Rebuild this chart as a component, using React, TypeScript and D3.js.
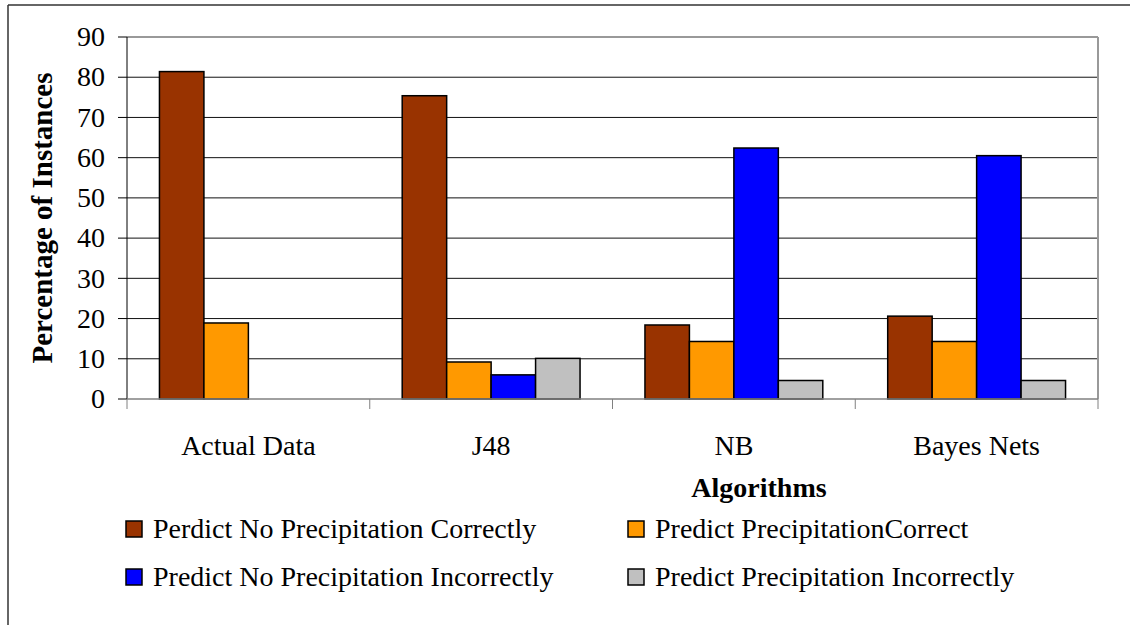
import React from "react";
import * as d3 from "d3";

const categories = ["Actual Data", "J48", "NB", "Bayes Nets"];
const seriesNames = [
  "Perdict No Precipitation Correctly",
  "Predict PrecipitationCorrect",
  "Predict No Precipitation Incorrectly",
  "Predict Precipitation Incorrectly",
];
const seriesColors = ["#993300", "#FF9900", "#0000FF", "#C0C0C0"];
const noPrecipCorrect = [81.4, 75.4, 18.4, 20.6];
const precipCorrect = [18.9, 9.2, 14.3, 14.3];
const noPrecipIncorrect = [0, 6.0, 62.4, 60.5];
const precipIncorrect = [0, 10.1, 4.6, 4.6];
const yTicks = [0, 10, 20, 30, 40, 50, 60, 70, 80, 90];

const seriesValues = [noPrecipCorrect, precipCorrect, noPrecipIncorrect, precipIncorrect];

const W = 1130;
const H = 625;
const left = 127;
const right = 1098;
const top = 37;
const bottom = 399;
const font = "'Liberation Serif', 'Times New Roman', serif";

export default function App() {
  const x0 = d3.scaleBand<string>().domain(categories).range([left, right]).paddingInner(0).paddingOuter(0);
  const x1 = d3
    .scaleBand<number>()
    .domain([0, 1, 2, 3])
    .range([0, x0.bandwidth()])
    .paddingOuter(0.73)
    .paddingInner(0);
  const y = d3.scaleLinear().domain([0, 90]).range([bottom, top]);

  const boundaries = categories.map((c) => x0(c) as number).concat([right]);

  return (
    <svg
      width={W}
      height={H}
      style={{ position: "absolute", left: 0, top: 0, background: "#fff" }}
      fontFamily={font}
    >
      <rect x={0} y={0} width={W} height={H} fill="#fff" />
      {/* outer frame */}
      <line x1={8} y1={5} x2={W} y2={5} stroke="#333" strokeWidth={1.5} />
      <line x1={8} y1={5} x2={8} y2={H} stroke="#333" strokeWidth={1.5} />

      {/* gridlines */}
      {yTicks.filter((t) => t > 0 && t < 90).map((t) => (
        <line key={t} x1={left} x2={right} y1={y(t)} y2={y(t)} stroke="#111" strokeWidth={1} />
      ))}
      {/* plot border top/right */}
      <line x1={left} x2={right} y1={y(90)} y2={y(90)} stroke="#999" strokeWidth={2} />
      <line x1={right} x2={right} y1={y(90)} y2={bottom} stroke="#999" strokeWidth={2} />

      {/* bars */}
      {categories.map((c, ci) => (
        <g key={c}>
          {seriesValues.map((vals, si) =>
            vals[ci] > 0 ? (
              <rect
                key={si}
                x={(x0(c) as number) + (x1(si) as number)}
                y={y(vals[ci])}
                width={x1.bandwidth()}
                height={bottom - y(vals[ci])}
                fill={seriesColors[si]}
                stroke="#000"
                strokeWidth={1.5}
              />
            ) : null
          )}
        </g>
      ))}

      {/* y axis */}
      <line x1={left} x2={left} y1={top} y2={bottom} stroke="#000" strokeWidth={1} />
      {yTicks.map((t) => (
        <g key={t}>
          <line x1={118} x2={left} y1={y(t)} y2={y(t)} stroke="#000" strokeWidth={1} />
          <text x={105} y={y(t)} dy="0.33em" textAnchor="end" fontSize={28} fill="#000">
            {t}
          </text>
        </g>
      ))}

      {/* x axis */}
      <line x1={left} x2={right} y1={bottom} y2={bottom} stroke="#808080" strokeWidth={1.5} />
      {boundaries.map((b, i) => (
        <line key={i} x1={b} x2={b} y1={bottom} y2={409} stroke="#808080" strokeWidth={1} />
      ))}
      {categories.map((c) => (
        <text
          key={c}
          x={(x0(c) as number) + x0.bandwidth() / 2}
          y={455}
          textAnchor="middle"
          fontSize={28}
          fill="#000"
        >
          {c}
        </text>
      ))}

      {/* axis titles */}
      <text x={759} y={497} textAnchor="middle" fontSize={28} fontWeight="bold" fill="#000">
        Algorithms
      </text>
      <text
        transform={`translate(52, 218) rotate(-90)`}
        textAnchor="middle"
        fontSize={29}
        fontWeight="bold"
        fill="#000"
      >
        Percentage of Instances
      </text>

      {/* legend */}
      {seriesNames.map((name, i) => {
        const col = i % 2;
        const row = Math.floor(i / 2);
        const sx = col === 0 ? 126 : 628;
        const base = row === 0 ? 538 : 586;
        return (
          <g key={name}>
            <rect
              x={sx}
              y={base - 17}
              width={16}
              height={16}
              fill={seriesColors[i]}
              stroke="#000"
              strokeWidth={1.5}
            />
            <text x={sx + 27} y={base} fontSize={28} fill="#000">
              {name}
            </text>
          </g>
        );
      })}
    </svg>
  );
}
